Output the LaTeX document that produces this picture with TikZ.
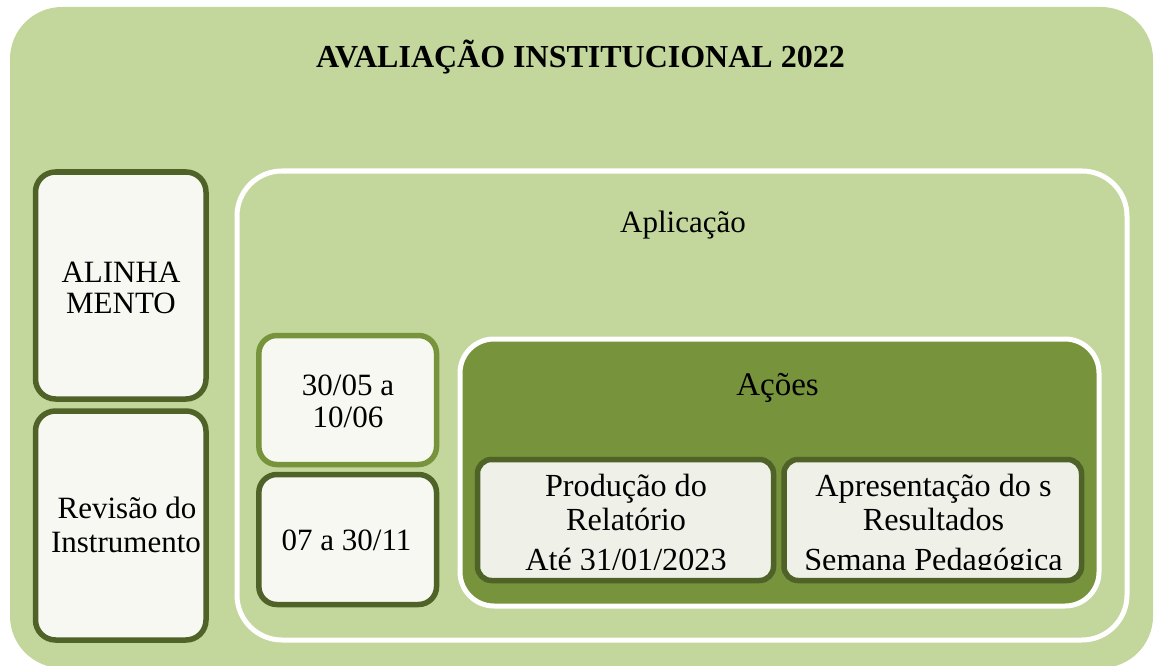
\documentclass[tikz,border=0pt]{standalone}
\usepackage{fontspec}
\setmainfont{Liberation Serif}
\definecolor{outerg}{HTML}{C3D69B}
\definecolor{midg}{HTML}{77933C}
\definecolor{darkg}{HTML}{4F6228}
\definecolor{boxw}{HTML}{F6F8F1}
\definecolor{boxa}{HTML}{EFF1E8}
\begin{document}
\begin{tikzpicture}[x=1pt,y=-1pt,
  txt/.style={font=\fontsize{31}{33}\selectfont, inner sep=0pt, anchor=base, text=black},
  atxt/.style={font=\fontsize{32.2}{34}\selectfont, inner sep=0pt, anchor=base, text=black},
  ttl/.style={font=\fontsize{32}{34}\selectfont\bfseries, inner sep=0pt, anchor=base, text=black},
  outerbox/.style={fill=outerg, rounded corners=52pt, inner sep=0pt},
  whitebox/.style={draw=white, line width=5pt, rounded corners=45pt, inner sep=0pt},
  acoesbox/.style={draw=white, line width=5pt, fill=midg, rounded corners=34pt, inner sep=0pt},
  leftbox/.style={draw=darkg, line width=5.5pt, fill=boxw, rounded corners=20pt, inner sep=0pt},
  datebox/.style={draw=#1, line width=5.5pt, fill=boxw, rounded corners=18pt, inner sep=0pt},
  actbox/.style={draw=darkg, line width=5.5pt, fill=boxa, rounded corners=14pt, inner sep=0pt}
]
\useasboundingbox (0,0) rectangle (1154,666);
\fill[white] (0,0) rectangle (1154,666);
% outer container (bottom edge extends just past the page)
\node[outerbox, minimum width=1143pt, minimum height=661pt] (outer) at (581.5,337.5) {};
\node[ttl] (title) at (580.5,67.5) {AVALIAÇÃO INSTITUCIONAL 2022};

% left column
\node[leftbox, minimum width=170.5pt, minimum height=227pt] (alinha) at (120.75,285.5) {};
\node[txt] (alinhaA) at (121,282) {ALINHA};
\node[txt] (alinhaB) at (121,313) {MENTO};
\node[leftbox, minimum width=170.5pt, minimum height=229pt] (revisao) at (120.75,525.5) {};
\node[txt] (revA) at (127,518) {Revisão do};
\node[txt] (revB) at (126,552) {Instrumento};

% Aplicação container
\node[whitebox, minimum width=890pt, minimum height=469pt] (aplic) at (682,405.5) {};
\node[txt] (aplicT) at (683,232) {Aplicação};

% dates
\node[datebox=midg, minimum width=177.7pt, minimum height=129pt] (d1) at (347.7,400) {};
\node[txt] (d1A) at (348,395) {30/05 a};
\node[txt] (d1B) at (348,427) {10/06};
\node[datebox=darkg, minimum width=177.7pt, minimum height=130pt] (d2) at (347.7,539.5) {};
\node[txt] (d2A) at (346.5,550) {07 a 30/11};

% Ações container
\node[acoesbox, minimum width=639pt, minimum height=267pt] (acoes) at (779.5,472.5) {};
\node[atxt, font=\fontsize{33}{35}\selectfont] (acoesT) at (777.5,395) {Ações};

% action boxes
\node[actbox, minimum width=296pt, minimum height=121pt] (prod) at (625.5,520) {};
\node[actbox, minimum width=297.5pt, minimum height=121pt] (apres) at (932.75,520) {};
\begin{scope}
  \clip (470,455) rectangle (1090,569.5);
  \node[atxt] (prodA) at (626,496.5) {Produção do};
  \node[atxt] (prodB) at (626,530) {Relatório};
  \node[atxt] (prodC) at (626,570.5) {Até 31/01/2023};
  \node[atxt] (apresA) at (933.5,496.5) {Apresentação do s};
  \node[atxt] (apresB) at (933.5,530) {Resultados};
  \node[atxt] (apresC) at (933.5,570.5) {Semana Pedagógica};
\end{scope}
\end{tikzpicture}
\end{document}
